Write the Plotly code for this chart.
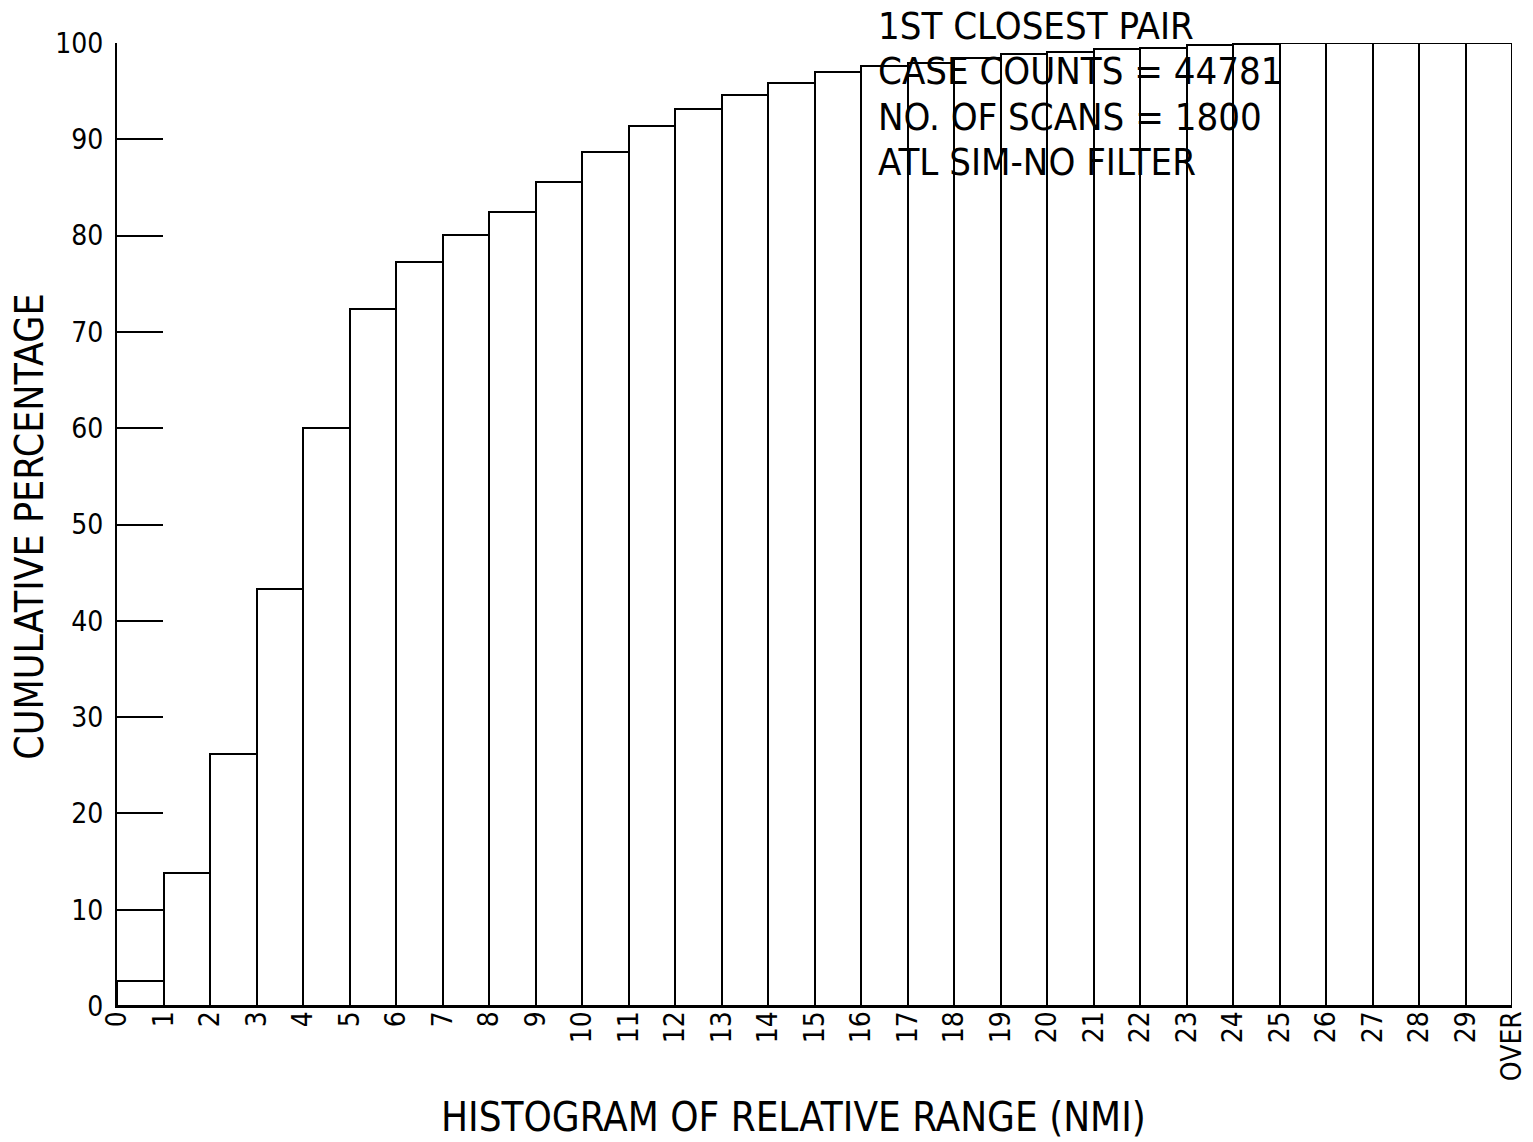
import plotly.graph_objects as go

# Bin edge labels (NMI) and cumulative percentage per bin
edge_labels = [str(i) for i in range(30)] + ["OVER"]
cum_pct = [2.6, 13.8, 26.2, 43.3, 60.0, 72.4, 77.3, 80.1, 82.5, 85.6,
           88.7, 91.4, 93.1, 94.6, 95.8, 97.0, 97.6, 97.9, 98.4, 98.9,
           99.1, 99.4, 99.5, 99.8, 99.9, 100.0, 100.0, 100.0, 100.0, 100.0]
y_ticks = [0, 10, 20, 30, 40, 50, 60, 70, 80, 90, 100]
info_lines = ["1ST CLOSEST PAIR", "CASE COUNTS = 44781",
              "NO. OF SCANS = 1800", "ATL SIM-NO FILTER"]

FONT = "Liberation Sans Narrow, DejaVu Sans Condensed, Arial Narrow, Liberation Sans, sans-serif"

n = len(cum_pct)
centers = [i + 0.5 for i in range(n)]

fig = go.Figure()
fig.add_trace(go.Bar(
    x=centers, y=cum_pct, width=1.0,
    marker=dict(color="white", line=dict(color="black", width=2)),
    hoverinfo="skip", showlegend=False,
))

# the page body margin is removed in the html (post_script), so no offset
W, H = 1533, 1142
ml, mr, mt = 117, 21, 43
plot_bottom = 1006.5
mb = H - plot_bottom
pw = W - ml - mr
ph = plot_bottom - mt


def px_x(page_x):
    return (page_x - ml) / pw


def px_y(page_y):
    return (plot_bottom - page_y) / ph


fig.update_layout(
    width=W, height=H,
    margin=dict(l=ml, r=mr, t=mt, b=mb, pad=0),
    paper_bgcolor="white", plot_bgcolor="white",
    bargap=0,
    font=dict(family=FONT, color="black"),
    xaxis=dict(
        range=[0, n], tickmode="array",
        tickvals=list(range(n + 1)), ticktext=edge_labels,
        tickangle=-90, ticks="", ticklen=0, showgrid=False, zeroline=False,
        showline=True, linecolor="black", linewidth=2,
        tickfont=dict(size=28, family=FONT), automargin=False,
        ticklabelstandoff=-8,
    ),
    yaxis=dict(
        range=[0, 100], tickmode="array", tickvals=y_ticks,
        ticks="inside", ticklen=46, tickwidth=2, tickcolor="black",
        showgrid=False, zeroline=False,
        showline=True, linecolor="black", linewidth=2,
        tickfont=dict(size=28, family=FONT), automargin=False,
        ticklabelstandoff=6,
    ),
)

# Axis titles
fig.add_annotation(
    text="HISTOGRAM OF RELATIVE RANGE (NMI)",
    xref="paper", yref="paper",
    x=px_x(793), y=px_y(1118),
    xanchor="center", yanchor="middle", showarrow=False,
    font=dict(size=40, family=FONT),
)
fig.add_annotation(
    text="CUMULATIVE PERCENTAGE",
    xref="paper", yref="paper",
    x=px_x(30), y=px_y(527),
    xanchor="center", yanchor="middle", textangle=-90, showarrow=False,
    font=dict(size=39, family=FONT),
)

# Info text block
line_y = [26, 71, 117, 162]
for txt, yc in zip(info_lines, line_y):
    fig.add_annotation(
        text=txt, xref="paper", yref="paper",
        x=px_x(877), y=px_y(yc),
        xanchor="left", yanchor="middle", showarrow=False,
        font=dict(size=38, family=FONT), borderpad=0,
    )

fig.write_html(
    "out.html",
    config={"displayModeBar": False},
    post_script="document.body.style.margin='0';document.body.style.padding='0';",
)
